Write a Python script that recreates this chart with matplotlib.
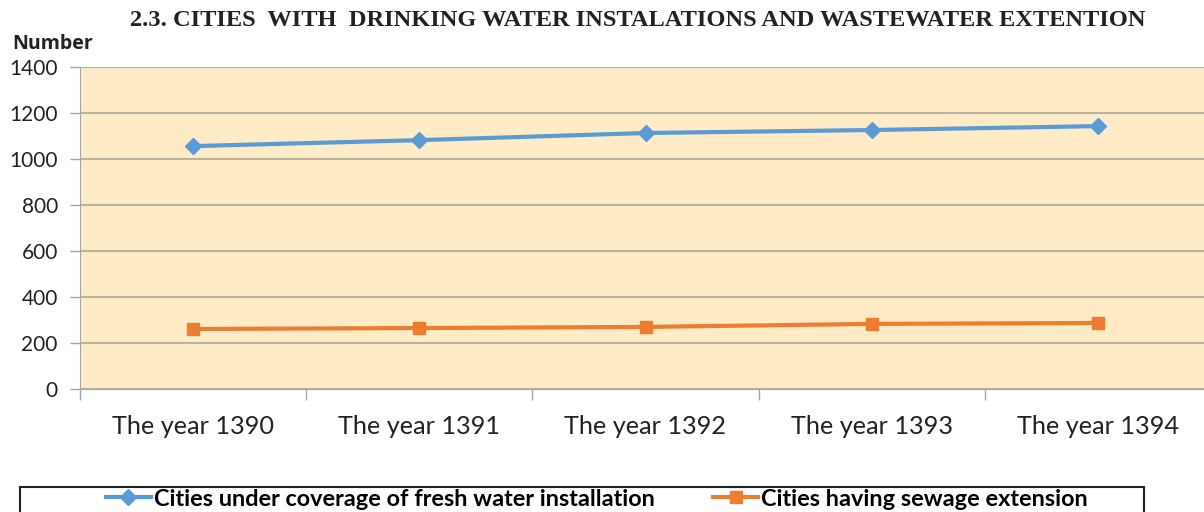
import matplotlib.pyplot as plt
from matplotlib.patches import Rectangle

years = ["The year 1390", "The year 1391", "The year 1392", "The year 1393", "The year 1394"]
fresh_water = [1056, 1082, 1113, 1126, 1143]
sewage = [261, 265, 270, 283, 287]
y_ticks = [0, 200, 400, 600, 800, 1000, 1200, 1400]

W, H = 1204, 512
fig = plt.figure(figsize=(W / 100, H / 100), dpi=100)
ax = fig.add_axes([80 / W, 1 - 389 / H, 1131 / W, 322 / H])
ax.set_facecolor("#FFEBC6")

x = list(range(len(years)))
ax.plot(x, fresh_water, color="#5B9BD5", lw=3, marker="D", ms=8,
        label="Cities under coverage of fresh water installation")
ax.plot(x, sewage, color="#ED7D31", lw=3, marker="s", ms=8,
        label="Cities having sewage extension")

ax.set_xlim(-0.5, 4.5)
ax.set_ylim(0, 1400)
ax.set_yticks(y_ticks)
ax.set_xticks(x)
ax.set_xticklabels(years, fontsize=18.2, fontfamily="Lato", color="#222222")
ax.set_xticks([i - 0.5 for i in range(len(years) + 1)], minor=True)
ax.tick_params(axis="x", which="major", length=0, pad=19)
ax.tick_params(axis="x", which="minor", length=8, color="#A6A6A6", width=1)
ax.tick_params(axis="y", length=7, color="#A6A6A6", width=1, labelsize=15, labelcolor="#222222", pad=9)
for lab in ax.get_yticklabels():
    lab.set_fontfamily("Lato")
ax.grid(axis="y", color="#B8B2A2", lw=1.5)
ax.set_axisbelow(True)
for s in ["top", "right"]:
    ax.spines[s].set_visible(False)
ax.spines["left"].set_color("#A6A6A6")
ax.spines["bottom"].set_color("#A6A6A6")

fig.text(638 / W, 1 - 21 / H, "2.3. CITIES  WITH  DRINKING WATER INSTALATIONS AND WASTEWATER EXTENTION",
         ha="center", va="center", fontsize=17.6, fontweight="bold", fontfamily="Liberation Serif", color="#222222")
fig.text(12 / W, 1 - 44 / H, "Number", ha="left", va="center", fontsize=14,
         fontweight="bold", fontfamily="Open Sans", color="#222222")

# legend box runs past the bottom edge like the reference
fig.patches.append(Rectangle((20 / W, -0.05), 1124 / W, 0.05 + 25 / H, transform=fig.transFigure,
                             fill=False, edgecolor="#222222", lw=1.5))
leg = fig.legend(loc="center left", bbox_to_anchor=(106 / W, 1 - 499 / H), ncol=2, frameon=False,
                 handlelength=1.9, handletextpad=0.13, columnspacing=2.5, borderpad=0, borderaxespad=0,
                 prop={"family": "Lato", "weight": "bold", "size": 16.9})

fig.savefig("out.png", dpi=100)
